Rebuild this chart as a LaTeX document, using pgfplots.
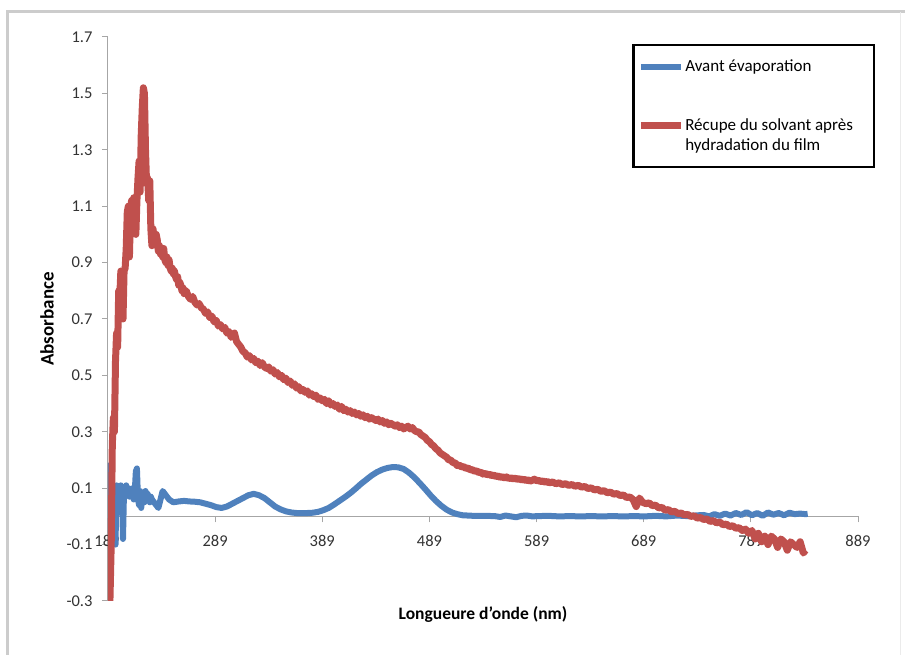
\documentclass[border=0pt]{standalone}
\usepackage{fontspec}
\setmainfont{Carlito}
\usepackage{pgfplots}
\pgfplotsset{compat=1.18}
\definecolor{exblue}{RGB}{79,129,189}
\definecolor{exred}{RGB}{192,80,77}
\pgfplotsset{redlegend/.style={legend image code/.code={\path (0pt,-13pt); \draw[##1] (0pt,10pt) -- (40pt,10pt);}}}
\pgfplotstableread{
x y
189 0.0
189.5 0.18
190.5 -0.05
191 0.15
192 -0.08
193 0.10
194 0.08
195 0.10
196 -0.10
197 0.11
198 0.09
199 0.10
200 0.08
201 0.11
202 0.10
203 -0.08
204 0.10
205 0.09
206 0.11
207 0.08
208 0.10
209 0.07
210 0.09
211 0.08
212 0.10
213 0.06
214 0.09
215 0.16
216 0.17
217 0.06
218 0.04
219 0.09
220 0.03
221 0.07
222 0.08
223 0.05
224 0.09
225 0.07
226 0.08
227 0.06
228 0.05
229 0.07
230 0.06
232 0.05
234 0.04
236 0.03
238 0.06
240 0.09
242 0.08
244 0.07
246 0.06
248 0.055
250 0.05
255 0.053
260 0.055
265 0.053
270 0.052
275 0.05
280 0.045
285 0.04
290 0.033
295 0.03
300 0.035
305 0.045
310 0.055
315 0.065
320 0.075
325 0.08
330 0.075
335 0.065
340 0.05
345 0.035
350 0.025
355 0.018
360 0.014
365 0.012
370 0.012
375 0.012
380 0.013
385 0.016
390 0.022
395 0.03
400 0.042
405 0.055
410 0.068
415 0.082
420 0.098
425 0.115
430 0.13
435 0.145
440 0.157
445 0.166
450 0.172
455 0.175
460 0.174
465 0.168
470 0.155
475 0.138
480 0.118
485 0.097
490 0.075
495 0.055
500 0.038
505 0.024
510 0.014
515 0.008
520 0.004
525 0.003
530 0.002
540 0.002
550 0.001
555 -0.002
560 0.003
565 0.0
570 -0.003
575 0.002
580 0.003
585 0.0
590 0.001
600 0.002
610 0.0
620 0.001
630 0.0
640 0.001
650 0.0
660 0.001
670 0.0
680 0.001
690 0.0
700 0.002
710 0.0
720 0.003
730 0.001
740 0.004
745 0.005
750 0.0
755 0.008
760 0.002
765 0.01
770 0.003
775 0.012
780 0.005
785 0.015
790 0.004
795 0.012
800 0.002
805 0.014
810 0.006
815 0.012
820 0.004
825 0.013
830 0.008
835 0.01
840 0.008
842 0.009
}\blueavant
\pgfplotstableread{
x y
190.5 -0.35
192 -0.1
193 0.25
194 0.35
195 0.30
196 0.55
197 0.65
198 0.60
199 0.80
200 0.78
201 0.87
202 0.85
203 0.70
204 0.87
205 0.88
206 0.95
207 1.08
208 1.10
209 0.92
210 1.08
211 1.12
212 1.10
213 1.13
214 1.05
215 1.00
216 1.12
217 1.20
218 1.26
219 1.15
220 1.35
221 1.45
222 1.52
223 1.50
224 1.30
225 1.18
226 1.20
227 1.12
228 1.19
229 1.02
230 0.96
231 1.02
232 0.99
233 0.97
234 1.00
235 0.98
236 0.94
237 0.96
238 0.93
239 0.94
240 0.92
241 0.95
242 0.91
243 0.90
244 0.92
245 0.89
246 0.91
247 0.88
248 0.87
249 0.88
250 0.86
251 0.87
252 0.85
253 0.84
254 0.85
255 0.82
256 0.83
257 0.82
258 0.80
259 0.81
260 0.79
262 0.80
264 0.78
266 0.77
268 0.78
270 0.76
272 0.75
274 0.755
276 0.74
278 0.735
280 0.72
282 0.725
284 0.705
286 0.71
288 0.69
290 0.695
292 0.675
294 0.68
296 0.665
298 0.67
300 0.65
302 0.655
304 0.635
306 0.645
307 0.65
309 0.62
311 0.61
313 0.60
315 0.585
317 0.58
319 0.565
321 0.57
323 0.555
325 0.56
327 0.545
329 0.55
331 0.535
333 0.545
335 0.53
337 0.525
339 0.53
341 0.515
343 0.52
345 0.505
347 0.51
349 0.495
351 0.50
353 0.485
355 0.49
357 0.475
359 0.48
361 0.465
363 0.47
365 0.455
367 0.46
369 0.445
371 0.45
373 0.44
375 0.445
377 0.43
379 0.435
381 0.425
383 0.43
385 0.415
387 0.42
389 0.41
391 0.415
393 0.40
395 0.41
397 0.395
399 0.40
401 0.39
403 0.395
405 0.38
407 0.39
409 0.375
411 0.38
413 0.37
415 0.375
417 0.365
419 0.37
421 0.36
423 0.365
425 0.355
427 0.36
429 0.35
431 0.355
433 0.345
435 0.35
437 0.345
439 0.34
441 0.345
443 0.335
445 0.34
447 0.33
449 0.335
451 0.325
453 0.33
455 0.325
457 0.32
459 0.325
461 0.315
463 0.32
465 0.31
467 0.315
469 0.32
471 0.31
473 0.315
475 0.305
477 0.30
479 0.30
481 0.29
483 0.285
485 0.28
487 0.27
489 0.265
491 0.255
493 0.25
495 0.24
497 0.235
499 0.225
501 0.22
503 0.215
505 0.21
507 0.2
509 0.2
511 0.19
513 0.19
515 0.18
517 0.182
519 0.175
521 0.177
523 0.17
525 0.172
527 0.165
529 0.166
531 0.16
533 0.162
535 0.155
537 0.157
539 0.15
541 0.153
543 0.147
545 0.15
547 0.144
549 0.147
551 0.141
553 0.144
555 0.138
557 0.141
559 0.136
561 0.14
563 0.134
565 0.137
567 0.133
569 0.136
571 0.131
573 0.134
575 0.129
577 0.132
579 0.127
581 0.13
583 0.125
585 0.128
587 0.132
589 0.126
591 0.128
593 0.123
595 0.126
597 0.121
599 0.124
601 0.119
604 0.122
607 0.116
610 0.119
613 0.113
616 0.116
619 0.11
622 0.113
625 0.107
628 0.11
631 0.104
634 0.106
637 0.099
640 0.101
643 0.094
646 0.096
649 0.089
652 0.091
655 0.084
658 0.086
661 0.079
664 0.081
667 0.074
670 0.076
673 0.067
676 0.069
679 0.06
682 0.035
685 0.065
688 0.05
691 0.045
694 0.048
697 0.038
700 0.04
703 0.03
706 0.032
709 0.022
712 0.024
715 0.016
718 0.018
721 0.01
724 0.012
727 0.005
730 0.007
733 0.0
736 0.002
739 -0.006
742 -0.004
745 -0.011
748 -0.009
751 -0.018
754 -0.015
757 -0.023
760 -0.02
763 -0.03
766 -0.027
769 -0.036
772 -0.033
775 -0.042
778 -0.04
781 -0.05
784 -0.045
787 -0.06
790 -0.05
793 -0.08
796 -0.06
799 -0.09
802 -0.07
805 -0.10
808 -0.07
811 -0.08
814 -0.11
817 -0.08
820 -0.09
823 -0.12
826 -0.09
829 -0.10
832 -0.11
835 -0.09
838 -0.13
840 -0.12
}\redapres
\begin{document}
\begin{tikzpicture}
\useasboundingbox (-108pt,-54pt) rectangle (797pt,601pt);
\draw[line width=3pt, black!20] (-100.5pt,-54pt) -- (-100.5pt,589pt) -- (797pt,589pt);
\draw[line width=1pt, black!8] (792pt,589pt) -- (792pt,-54pt);
\begin{axis}[
  at={(0pt,0pt)}, anchor=south west,
  scale only axis, width=750pt, height=564pt,
  xmin=189, xmax=889, ymin=-0.3, ymax=1.7,
  axis x line=middle, axis y line=left,
  axis line style={-, black!35, line width=1pt},
  xtick={189,289,...,889},
  xticklabels={\hspace*{-2pt}189,289,389,489,589,689,789,889},
  ytick={-0.3,-0.1,0.1,0.3,0.5,0.7,0.9,1.1,1.3,1.5,1.7},
  yticklabels={-0.3,-0.1,0.1,0.3,0.5,0.7,0.9,1.1,1.3,1.5,1.7},
  /pgf/number format/assume math mode=true,
  hide obscured x ticks=false,
  tick align=outside, major tick length=6pt,
  tick style={black!35, line width=1pt},
  tick label style={font=\fontsize{16.5}{18}\selectfont, text=black!80},
  xticklabel style={anchor=north, yshift=-9pt},
  yticklabel style={anchor=east, xshift=-6pt},
  xlabel={Longueure d'onde (nm)},
  ylabel={Absorbance},
  every axis x label/.style={at={(axis description cs:0.5,-0.0248)}, anchor=center, font=\bfseries\fontsize{17.5}{19}\selectfont},
  every axis y label/.style={at={(axis description cs:-0.0813,0.5)}, rotate=90, anchor=center, font=\bfseries\fontsize{19}{21}\selectfont},
  legend style={at={(axis description cs:0.6987,0.9876)}, anchor=north west, draw=black, line width=2.5pt,
    font=\fontsize{17}{20}\selectfont, inner xsep=4pt, inner ysep=14pt, row sep=43pt,
    nodes={align=left, inner sep=1pt}},
  legend cell align=left,
  legend image code/.code={\draw[#1] (0pt,0pt) -- (40pt,0pt);},
  clip=true,
]
\addplot[exblue, line width=6pt, line join=round] table {\blueavant};
\addlegendentry{Avant évaporation}
\addplot[exred, line width=7pt, line join=round, redlegend] table {\redapres};
\addlegendentry{Récupe du solvant après\kern16pt\\hydradation du film}
\end{axis}
\end{tikzpicture}
\end{document}
